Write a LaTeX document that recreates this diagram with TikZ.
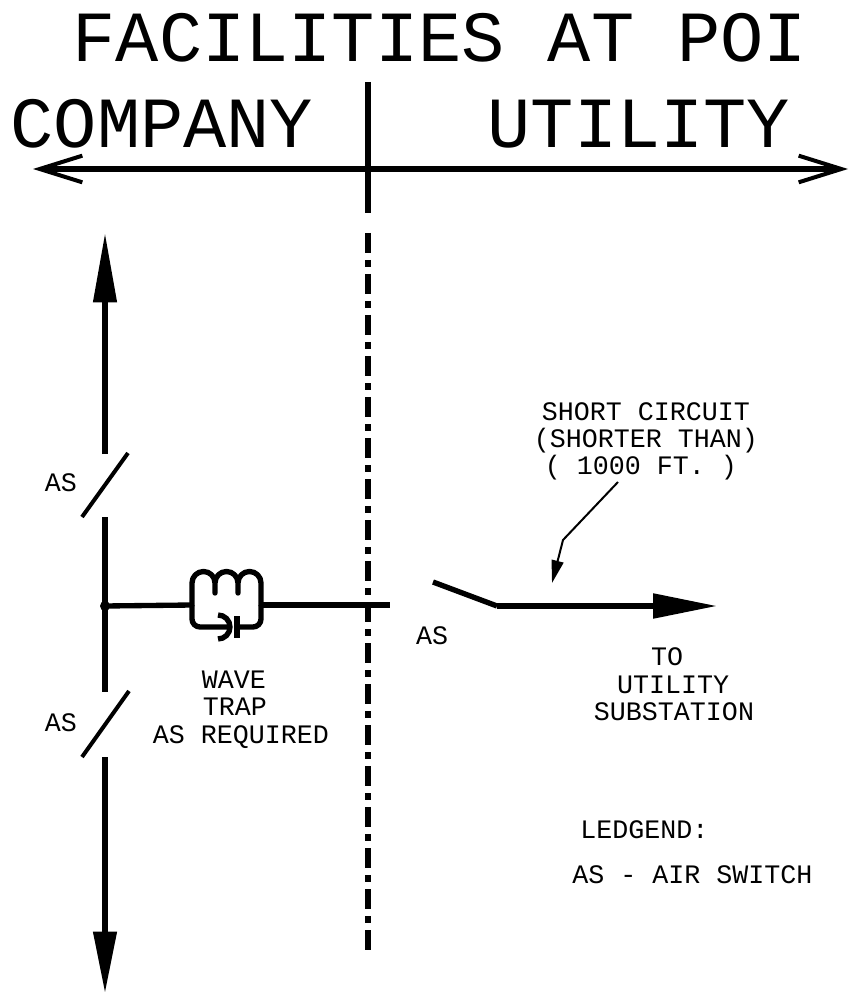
\documentclass[tikz,border=0pt]{standalone}
\usepackage{fontspec}
\setmainfont{Liberation Mono}
\usetikzlibrary{arrows.meta}

\tikzset{
  wire/.style={line width=4pt},
  thinwire/.style={line width=1.5pt},
  lbl/.style={anchor=base, inner sep=0pt, text height=13pt, text depth=1pt, font=\fontsize{20}{22}\selectfont},
  bigtxt/.style={anchor=base, inner sep=0pt, font=\fontsize{54}{60}\selectfont},
}

\begin{document}
\begin{tikzpicture}[x=0.75pt, y=-0.75pt]

\useasboundingbox (0,0) rectangle (851,994);

%Headings
\node [bigtxt] (title) at (440,62) {FACILITIES AT POI};
\node [bigtxt] (company) at (162,148) {COMPANY};
\node [bigtxt] (utility) at (639,148) {UTILITY};

%Boundary arrow
\coordinate (lefttip) at (33,169);
\coordinate (righttip) at (848,169);
\draw [wire, {Straight Barb[length=32pt, width=20pt, line width=3pt]}-{Straight Barb[length=32pt, width=20pt, line width=3pt]}] (lefttip) -- (righttip);

%Point of interconnection line
\coordinate (poitop) at (368,82);
\coordinate (poimid) at (368,213);
\coordinate (poidash) at (368,233);
\coordinate (poibot) at (368,950);
\draw [wire] (poitop) -- (poimid);
\draw [wire, dash pattern=on 15pt off 5.25pt on 5.25pt off 5.25pt] (poidash) -- (poibot);

%Company bus
\coordinate (bustop) at (105,233);
\coordinate (as1a) at (105,454);
\coordinate (as1b) at (105,517);
\coordinate (junc) at (105,606);
\coordinate (as2a) at (105,692);
\coordinate (as2b) at (105,757);
\coordinate (busbot) at (105,993);

\draw [wire, -{Triangle[length=52pt, width=17pt]}] (as1a) -- (bustop);
\draw [wire] (as1b) -- (as2a);
\draw [wire, -{Triangle[length=46pt, width=17pt]}] (as2b) -- (busbot);
\fill (junc) circle [radius=5];

%Air switches on bus
\draw [line width=3pt] (128,453) -- (82,517);
\draw [line width=3pt] (129,691) -- (82,757);
\node [lbl] (as1) at (61,491) {AS};
\node [lbl] (as2) at (61,731) {AS};

%Wave trap
\coordinate (trapl) at (192,605);
\coordinate (trapr) at (261,605);
\coordinate (lineend) at (390,605);
\draw [wire] (junc) -- (trapl);
\draw [wire] (trapr) -- (lineend);
\draw [wire, line cap=round, line join=round]
  (trapl) -- (192,583) arc [start angle=180, end angle=360, radius=11.5] -- (215,593)
  (215,583) arc [start angle=180, end angle=360, radius=11.5] -- (238,593)
  (238,583) arc [start angle=180, end angle=360, radius=11.5] -- (trapr);
\draw [wire, rounded corners=6pt] (trapl) -- (192,627) -- (228,627);
\draw [wire] (218,615) arc [start angle=-90, end angle=90, radius=12];
\draw [wire] (237,616) -- (237,638);
\draw [wire, rounded corners=6pt] (237,627) -- (261,627) -- (trapr);

\node [lbl] (wave) at (234,688) {WAVE};
\node [lbl] (trap) at (235,715) {TRAP};
\node [lbl] (asreq) at (241,743) {AS REQUIRED};

%Utility air switch and line
\coordinate (swa) at (433,582);
\coordinate (swb) at (497,606);
\coordinate (totip) at (717,606);
\draw [wire] (swa) -- (swb);
\draw [wire, -{Triangle[length=48pt, width=18pt]}] (swb) -- (totip);
\node [lbl] (as3) at (432,644) {AS};

\node [lbl] (to1) at (667,665) {TO};
\node [lbl] (to2) at (673,693) {UTILITY};
\node [lbl] (to3) at (674,720) {SUBSTATION};

%Short circuit note
\node [lbl] (sc1) at (646,420) {SHORT CIRCUIT};
\node [lbl] (sc2) at (646,447) {(SHORTER THAN)};
\node [lbl] (sc3) at (641,474) {( 1000 FT. )};
\coordinate (ldra) at (618,482);
\coordinate (ldrb) at (563,540);
\coordinate (ldrtip) at (552,583);
\draw [thinwire, -{Triangle[length=17pt, width=9pt]}] (ldra) -- (ldrb) -- (ldrtip);

%Legend
\node [lbl, anchor=base west] (leg1) at (580,838) {LEDGEND:};
\node [lbl, anchor=base west] (leg2) at (572,883) {AS - AIR SWITCH};

\end{tikzpicture}
\end{document}
